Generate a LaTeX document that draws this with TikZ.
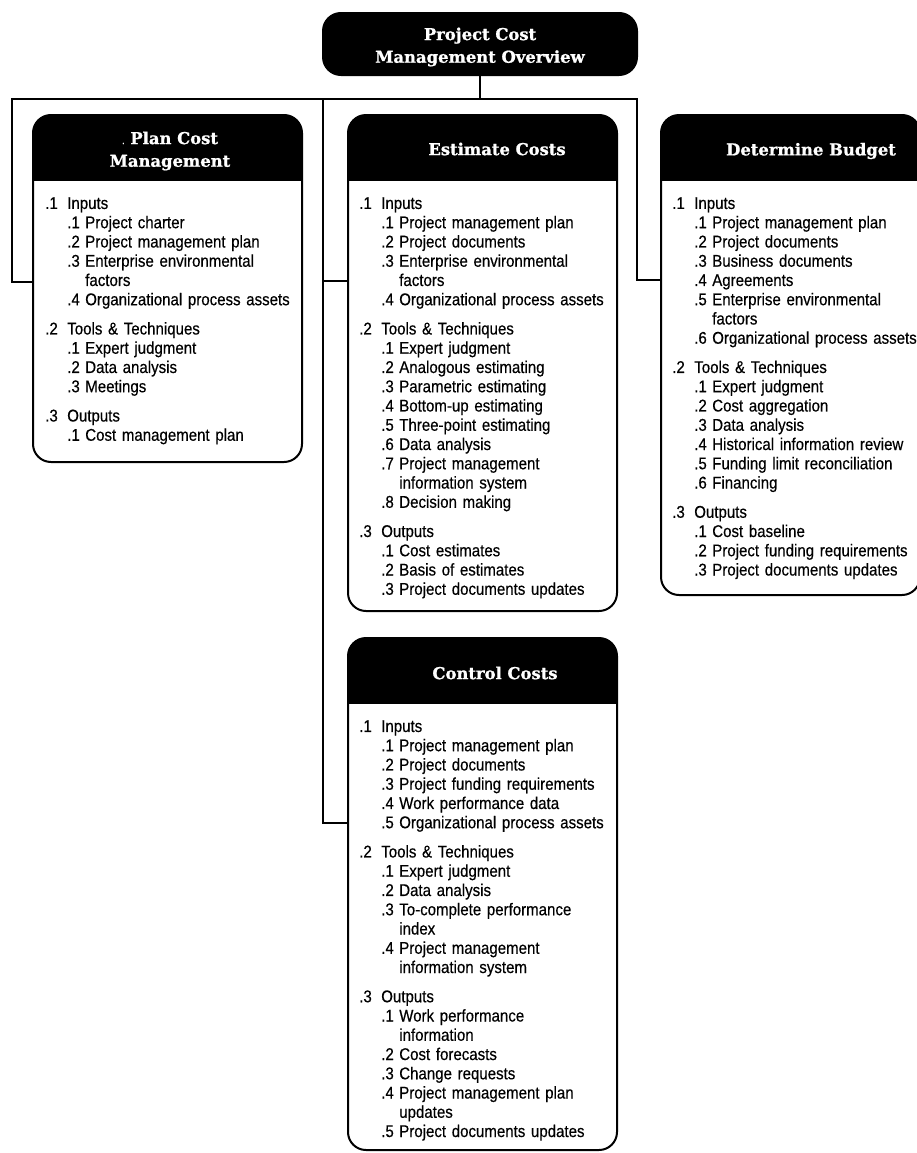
\documentclass[tikz,border=0pt]{standalone}
\usepackage{fontspec}
\usetikzlibrary{fit,calc}
\newfontfamily\bodyfont[FakeStretch=0.885,FakeBold=0.4]{Liberation Sans}
\newfontfamily\headfont[FakeBold=1]{DejaVu Serif Bold}
\newcommand\itA[2]{\makebox[16.5pt][l]{#1}#2\par}
\newcommand\itB[2]{\hspace*{16.5pt}\makebox[13.5pt][l]{#1}#2\par}
\newcommand\itC[1]{\hspace*{30pt}#1\par}
\newcommand\grpgap{\vspace{7.5pt}}
\begin{document}
\begin{tikzpicture}[x=0.75pt,y=-0.75pt,
  box/.style={draw,line width=1.5pt,rounded corners=13.5pt,inner sep=0pt,outer sep=0pt},
  hdtext/.style={text=white,font={\headfont\fontsize{12.3pt}{17pt}\selectfont},align=center,inner sep=0pt},
  body/.style={anchor=north west,inner sep=0pt,text width=240pt,align=left,
    font={\bodyfont\fontsize{12.75pt}{14.44pt}\selectfont},
    execute at begin node={\setlength\parindent{0pt}}},
  conn/.style={draw,line width=1.5pt}]
\useasboundingbox (0,0) rectangle (917,1153);
\clip (0,0) rectangle (917,1153);

% top box
\node[box,fill=black,fit={(323,13) (637,75)}] (top) {};
\node[hdtext] (toptxt) at (480,47) {Project Cost\\Management Overview};

% boxes
\node[box,fit={(33,115) (302,462)}] (plan) {};
\node[box,fit={(348,115) (617,611)}] (est) {};
\node[box,fit={(661,115) (920,595)}] (det) {};
\node[box,fit={(348,638) (617,1150)}] (ctrl) {};

% header fills
\foreach \b in {plan,est,det,ctrl}{
  \begin{scope}
    \clip (\b.north west) rectangle ($(\b.north east)+(0,65)$);
    \fill[rounded corners=13.5pt] (\b.north west) rectangle (\b.south east);
  \end{scope}
}

% header texts
\node[hdtext] (planhd) at (170,151) {{\bodyfont\fontsize{8pt}{8pt}\selectfont .}\ Plan Cost\\Management};
\node[hdtext] (esthd) at (497,149) {Estimate Costs};
\node[hdtext] (dethd) at (811,151) {Determine Budget};
\node[hdtext] (ctrlhd) at (495,673) {Control Costs};

% connectors
\coordinate (busL) at (12,99);
\coordinate (busM) at (top.west |- busL);
\coordinate (busR) at (top.east |- busL);
\coordinate (jL) at (12,282);
\coordinate (jE) at (323,281);
\coordinate (jD) at (637,280);
\coordinate (jC) at (323,823);
\draw[conn] (top.south) -- (top.south |- busL);
\draw[conn] (plan.west |- jL) -| (busL) -- (busR) |- (det.west |- jD);
\draw[conn] (busM) |- (ctrl.west |- jC);
\draw[conn] (jE) -- (est.west |- jE);

% bodies
\node[body] (planbody) at (45,197) {
\itA{.1}{Inputs}
\itB{.1}{Project charter}
\itB{.2}{Project management plan}
\itB{.3}{Enterprise environmental}
\itC{factors}
\itB{.4}{Organizational process assets}
\grpgap
\itA{.2}{Tools \& Techniques}
\itB{.1}{Expert judgment}
\itB{.2}{Data analysis}
\itB{.3}{Meetings}
\grpgap
\itA{.3}{Outputs}
\itB{.1}{Cost management plan}
};

\node[body] (estbody) at (359,197) {
\itA{.1}{Inputs}
\itB{.1}{Project management plan}
\itB{.2}{Project documents}
\itB{.3}{Enterprise environmental}
\itC{factors}
\itB{.4}{Organizational process assets}
\grpgap
\itA{.2}{Tools \& Techniques}
\itB{.1}{Expert judgment}
\itB{.2}{Analogous estimating}
\itB{.3}{Parametric estimating}
\itB{.4}{Bottom-up estimating}
\itB{.5}{Three-point estimating}
\itB{.6}{Data analysis}
\itB{.7}{Project management}
\itC{information system}
\itB{.8}{Decision making}
\grpgap
\itA{.3}{Outputs}
\itB{.1}{Cost estimates}
\itB{.2}{Basis of estimates}
\itB{.3}{Project documents updates}
};

\node[body] (detbody) at (672,197) {
\itA{.1}{Inputs}
\itB{.1}{Project management plan}
\itB{.2}{Project documents}
\itB{.3}{Business documents}
\itB{.4}{Agreements}
\itB{.5}{Enterprise environmental}
\itC{factors}
\itB{.6}{Organizational process assets}
\grpgap
\itA{.2}{Tools \& Techniques}
\itB{.1}{Expert judgment}
\itB{.2}{Cost aggregation}
\itB{.3}{Data analysis}
\itB{.4}{Historical information review}
\itB{.5}{Funding limit reconciliation}
\itB{.6}{Financing}
\grpgap
\itA{.3}{Outputs}
\itB{.1}{Cost baseline}
\itB{.2}{Project funding requirements}
\itB{.3}{Project documents updates}
};

\node[body] (ctrlbody) at (359,720) {
\itA{.1}{Inputs}
\itB{.1}{Project management plan}
\itB{.2}{Project documents}
\itB{.3}{Project funding requirements}
\itB{.4}{Work performance data}
\itB{.5}{Organizational process assets}
\grpgap
\itA{.2}{Tools \& Techniques}
\itB{.1}{Expert judgment}
\itB{.2}{Data analysis}
\itB{.3}{To-complete performance}
\itC{index}
\itB{.4}{Project management}
\itC{information system}
\grpgap
\itA{.3}{Outputs}
\itB{.1}{Work performance}
\itC{information}
\itB{.2}{Cost forecasts}
\itB{.3}{Change requests}
\itB{.4}{Project management plan}
\itC{updates}
\itB{.5}{Project documents updates}
};
\end{tikzpicture}
\end{document}
